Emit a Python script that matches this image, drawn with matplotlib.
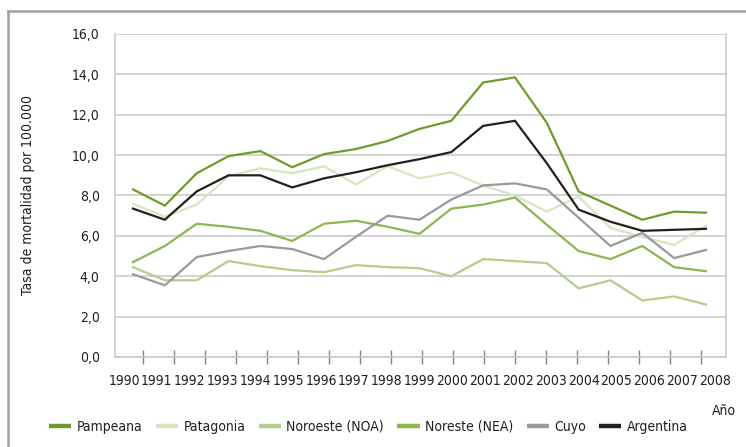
import matplotlib
matplotlib.use("Agg")
import matplotlib.pyplot as plt
from matplotlib.lines import Line2D
from matplotlib.ticker import FuncFormatter
import numpy as np

years = list(range(1990, 2009))

pampeana = [8.3, 7.5, 9.1, 9.95, 10.2, 9.4, 10.05, 10.3, 10.7, 11.3, 11.7,
            13.6, 13.85, 11.6, 8.2, 7.5, 6.8, 7.2, 7.15]
patagonia = [7.6, 6.95, 7.55, 8.95, 9.35, 9.1, 9.45, 8.55, 9.45, 8.85, 9.15,
             8.5, 8.0, 7.2, 7.95, 6.4, 5.95, 5.55, 6.5]
noroeste = [4.45, 3.8, 3.8, 4.75, 4.5, 4.3, 4.2, 4.55, 4.45, 4.4, 4.0,
            4.85, 4.75, 4.65, 3.4, 3.8, 2.8, 3.0, 2.6]
noreste = [4.7, 5.5, 6.6, 6.45, 6.25, 5.75, 6.6, 6.75, 6.45, 6.1, 7.35,
           7.55, 7.9, 6.55, 5.25, 4.85, 5.5, 4.45, 4.25]
cuyo = [4.1, 3.55, 4.95, 5.25, 5.5, 5.35, 4.85, 5.95, 7.0, 6.8, 7.8,
        8.5, 8.6, 8.3, 6.9, 5.5, 6.15, 4.9, 5.3]
argentina = [7.35, 6.8, 8.2, 9.0, 9.0, 8.4, 8.85, 9.15, 9.5, 9.8, 10.15,
             11.45, 11.7, 9.6, 7.3, 6.7, 6.25, 6.3, 6.35]

series = [
    ("Pampeana", pampeana, "#6d9c2c"),
    ("Patagonia", patagonia, "#d7e5c3"),
    ("Noroeste (NOA)", noroeste, "#b3cd8c"),
    ("Noreste (NEA)", noreste, "#8db652"),
    ("Cuyo", cuyo, "#9a9a9e"),
    ("Argentina", argentina, "#231f20"),
]

plt.rcParams["font.family"] = ["DejaVu Sans"]
plt.rcParams["font.stretch"] = "condensed"
plt.rcParams["font.size"] = 10
TXT = "#231f20"

fig = plt.figure(figsize=(7.46, 4.47), dpi=100)
W, H = 746, 447
ax = fig.add_axes([115 / W, 1 - 357 / H, (726 - 115) / W, (357 - 34) / H])

x = np.arange(len(years))
for name, vals, col in series:
    ax.plot(x, vals, color=col, lw=1.6, solid_joinstyle="miter")

ax.set_ylim(0, 16)
ax.set_yticks(np.arange(0, 17, 2))
ax.yaxis.set_major_formatter(FuncFormatter(lambda v, p: f"{v:.1f}".replace(".", ",")))
ax.grid(axis="y", color="#c8c8c8", lw=1.1)
ax.set_axisbelow(True)
ax.tick_params(axis="y", length=0, pad=11, labelcolor=TXT)

ax.set_xlim(-0.566, 18.63)
# labels and tick marks sit slightly apart in the original
ax.set_xticks(np.linspace(-0.28, 18.28, len(years)))
ax.set_xticklabels([str(y) for y in years])
ax.set_xticks(np.linspace(0.31, 17.84, len(years)), minor=True)
ax.tick_params(axis="x", which="major", length=0, pad=12, labelcolor=TXT)
ax.tick_params(axis="x", which="minor", direction="inout", length=10,
               width=1, color="#8a8080")

for s in ax.spines.values():
    s.set_color("#c8c8c8")
    s.set_linewidth(1.1)
ax.spines["top"].set_visible(False)

ax.set_ylabel("Tasa de mortalidad por 100.000", color=TXT)
ax.yaxis.set_label_coords((35 - 115) / (726 - 115), 0.5)

handles = [Line2D([], [], color=c, lw=3.2, solid_capstyle="butt") for _, _, c in series]
fig.legend(handles, [n for n, _, _ in series], ncol=6, frameon=False,
           loc="center left", bbox_to_anchor=(49 / W, 1 - 427 / H),
           handlelength=1.6, handletextpad=0.4, columnspacing=0.95,
           labelcolor=TXT, borderaxespad=0, borderpad=0)

fig.text(724 / W, 1 - 411 / H, "Año", ha="center", va="center", color=TXT)

# outer frame
fig.add_artist(Line2D([8 / W, 1.0], [1 - 11 / H, 1 - 11 / H], color="#a0a0a0", lw=1.8))
fig.add_artist(Line2D([8 / W, 8 / W], [0, 1 - 11 / H], color="#a0a0a0", lw=1.8))

fig.savefig("out.png", dpi=100)
